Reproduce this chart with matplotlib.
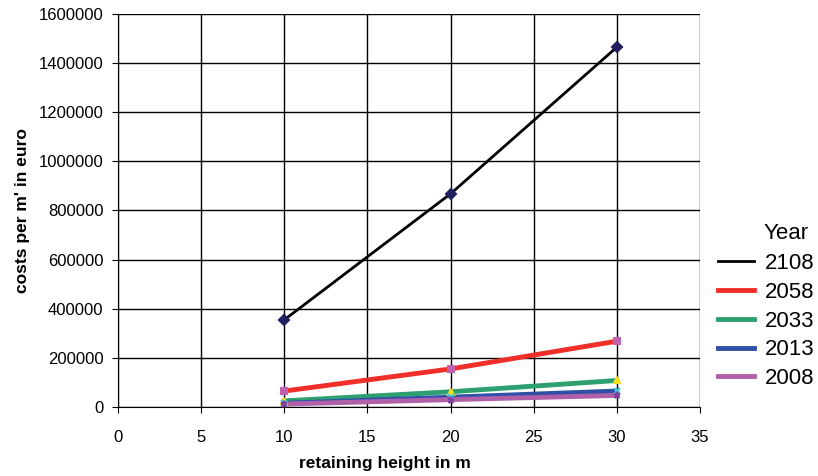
import matplotlib
matplotlib.use("Agg")
import matplotlib.pyplot as plt
from matplotlib.lines import Line2D
from matplotlib.ticker import FuncFormatter

plt.rcParams['font.family'] = ['Liberation Sans', 'DejaVu Sans']

heights = [10, 20, 30]
years = ["2108", "2058", "2033", "2013", "2008"]
costs_2108 = [355000, 868000, 1465000]
costs_2058 = [65000, 155000, 268000]
costs_2033 = [25000, 62000, 108000]
costs_2013 = [15000, 40000, 65000]
costs_2008 = [12000, 30000, 47000]

line_colors = ["#000000", "#f03028", "#2ea070", "#3050a8", "#b060a8"]
marker_colors = ["#202060", "#c060b0", "#f0e020", "#40c8e0", "#8040a0"]
markers = ["D", "s", "^", "x", "*"]
widths = [2.0, 3.5, 3.5, 3.5, 3.5]

fig = plt.figure(figsize=(8.18, 4.76), dpi=100)
ax = fig.add_axes([118 / 818, 1 - 407 / 476, (700 - 118) / 818, (407 - 14) / 476])

series = [costs_2108, costs_2058, costs_2033, costs_2013, costs_2008]
for i, vals in enumerate(series):
    ax.plot(heights, vals, color=line_colors[i], lw=widths[i], zorder=3 + i * 0.1)
    ax.plot(heights, vals, ls="none", marker=markers[i], color=marker_colors[i],
            ms=5, mew=1.5, zorder=4)

ax.set_xlim(0, 35)
ax.set_ylim(0, 1600000)
ax.set_xticks(range(0, 36, 5))
ax.set_yticks(range(0, 1600001, 200000))
ax.yaxis.set_major_formatter(FuncFormatter(lambda v, p: f"{int(v)}"))
ax.grid(True, color="#000000", lw=1.0)
ax.set_axisbelow(True)
for s in ["top", "right"]:
    ax.spines[s].set_visible(False)
ax.tick_params(direction="out", length=4.5, labelsize=12, colors="#000000")
ax.tick_params(axis="x", pad=12)
ax.tick_params(axis="y", pad=6)
ax.set_xlabel("retaining height in m", fontsize=12.5, fontweight="bold")
ax.xaxis.set_label_coords(0.459, -0.125)
ax.set_ylabel("costs per m' in euro", fontsize=12.5, fontweight="bold", labelpad=6)

handles = [Line2D([], [], color=line_colors[i], lw=widths[i]) for i in range(5)]
leg = fig.legend(handles, years, loc="upper left",
                 bbox_to_anchor=(718 / 818, 1 - 253 / 476), frameon=False,
                 fontsize=16, handlelength=1.6, borderpad=0, borderaxespad=0,
                 labelspacing=0.35, handletextpad=0.5)
fig.text(764 / 818, 1 - 233 / 476, "Year", fontsize=16, va="center", ha="left")

fig.savefig("out.png", dpi=100)
